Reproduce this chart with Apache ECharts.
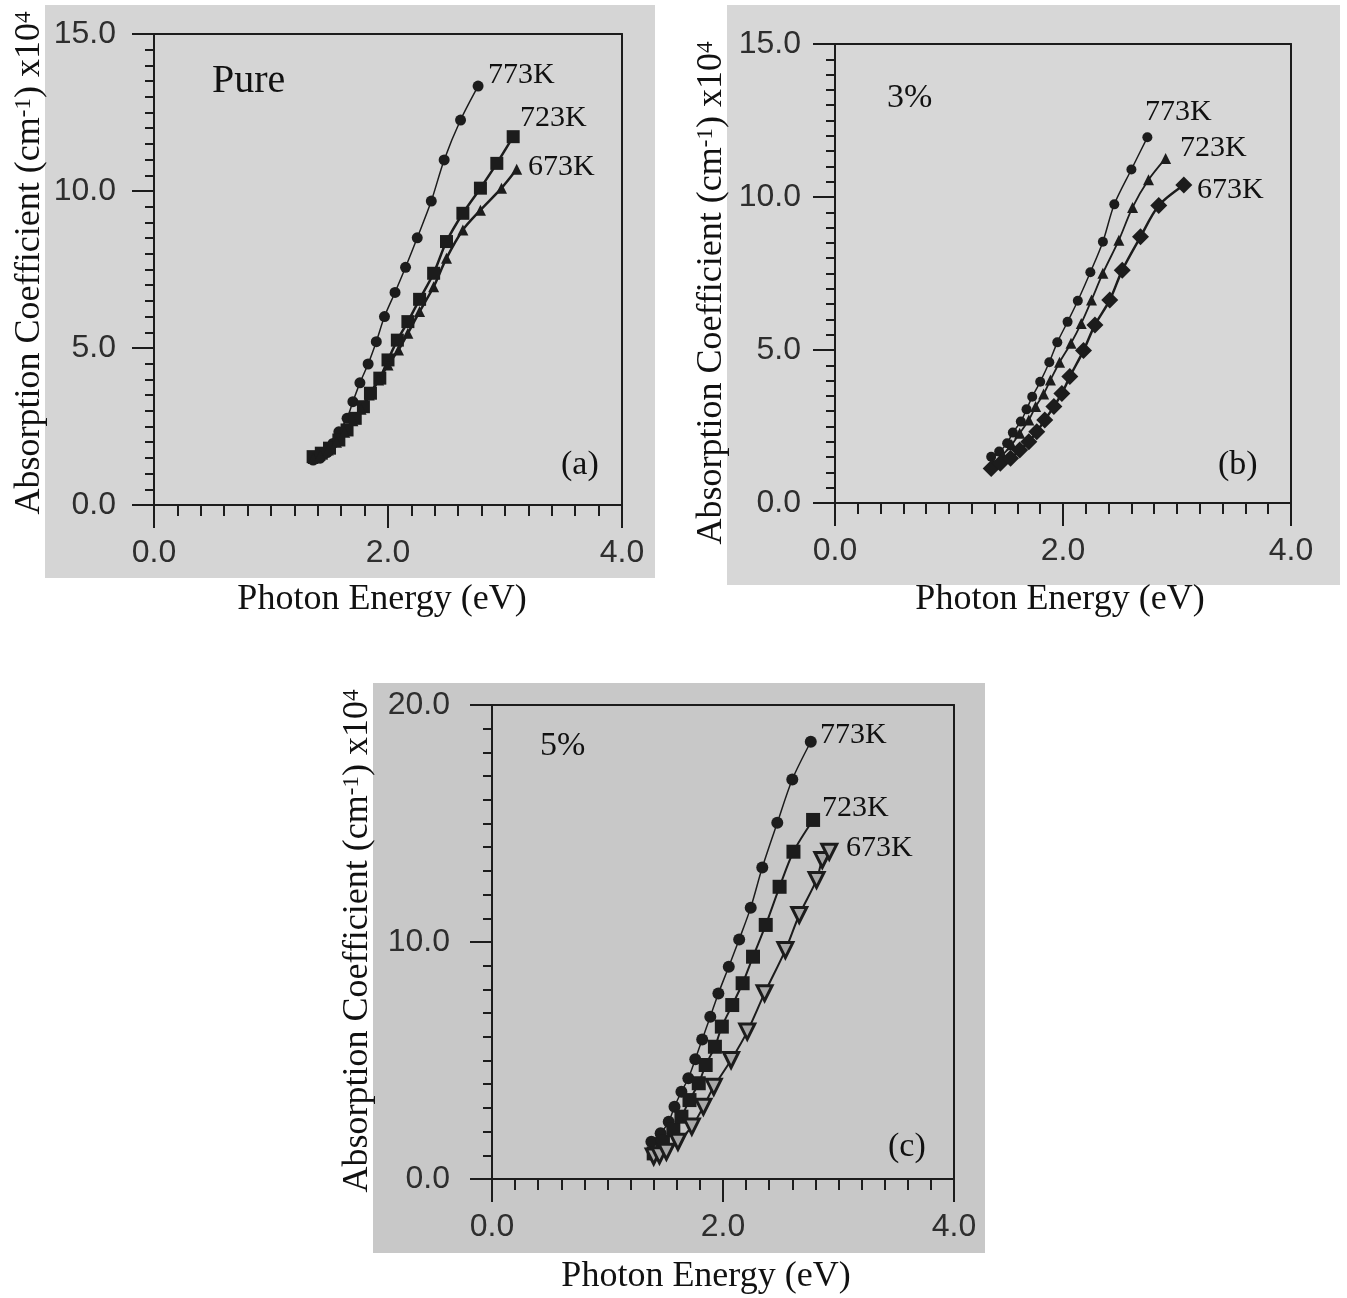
<!DOCTYPE html>
<html>
<head>
<meta charset="utf-8">
<script src="https://cdn.jsdelivr.net/npm/echarts@6/dist/echarts.min.js"></script>
<style>
html,body{margin:0;padding:0;background:#fff;}
#chart{width:1347px;height:1298px;}
</style>
</head>
<body>
<div id="chart"></div>
<script>
// ---------- data (Photon energy eV, absorption coefficient x10^4 cm^-1) ----------
const xTicks = [0, 2, 4];
const panelNames = ['Pure', '3%', '5%'];
const panelLetters = ['(a)', '(b)', '(c)'];
const tempNames = ['773K', '723K', '673K'];

const pure773 = [[1.36,1.43],[1.42,1.49],[1.48,1.67],[1.53,1.96],[1.58,2.33],[1.65,2.76],[1.70,3.29],[1.76,3.89],[1.83,4.49],[1.90,5.20],[1.97,6.00],[2.06,6.77],[2.15,7.57],[2.25,8.51],[2.37,9.68],[2.48,10.99],[2.62,12.26],[2.77,13.34]];
const pure723 = [[1.36,1.54],[1.43,1.65],[1.50,1.81],[1.58,2.07],[1.65,2.39],[1.72,2.76],[1.79,3.13],[1.85,3.56],[1.93,4.04],[2.00,4.62],[2.08,5.25],[2.17,5.84],[2.27,6.55],[2.39,7.38],[2.50,8.39],[2.64,9.29],[2.79,10.09],[2.93,10.88],[3.07,11.73]];
const pure673 = [[1.36,1.48],[1.42,1.58],[1.49,1.75],[1.56,2.00],[1.63,2.32],[1.70,2.68],[1.77,3.05],[1.84,3.50],[1.92,3.98],[2.00,4.46],[2.09,4.94],[2.17,5.47],[2.27,6.16],[2.39,6.95],[2.50,7.86],[2.64,8.76],[2.79,9.39],[2.97,10.09],[3.10,10.69]];

const d3_773 = [[1.37,1.51],[1.44,1.68],[1.51,1.95],[1.56,2.30],[1.63,2.66],[1.68,3.06],[1.73,3.47],[1.80,3.96],[1.88,4.60],[1.95,5.25],[2.04,5.92],[2.13,6.61],[2.24,7.54],[2.35,8.54],[2.45,9.76],[2.60,10.90],[2.74,11.95]];
const d3_723 = [[1.39,1.30],[1.47,1.57],[1.55,1.90],[1.62,2.28],[1.70,2.71],[1.76,3.15],[1.83,3.56],[1.89,4.02],[1.97,4.60],[2.07,5.22],[2.16,5.87],[2.25,6.63],[2.35,7.51],[2.49,8.59],[2.61,9.66],[2.75,10.56],[2.90,11.26]];
const d3_673 = [[1.37,1.13],[1.45,1.30],[1.54,1.46],[1.62,1.73],[1.70,2.00],[1.77,2.33],[1.84,2.71],[1.92,3.15],[1.99,3.58],[2.06,4.13],[2.18,4.98],[2.28,5.82],[2.41,6.63],[2.52,7.61],[2.68,8.70],[2.84,9.72],[3.06,10.39]];

const d5_773 = [[1.38,1.57],[1.46,1.93],[1.53,2.42],[1.58,3.05],[1.64,3.68],[1.70,4.25],[1.76,5.05],[1.82,5.89],[1.89,6.85],[1.96,7.83],[2.05,8.96],[2.14,10.11],[2.24,11.45],[2.34,13.14],[2.47,15.03],[2.60,16.86],[2.76,18.45]];
const d5_723 = [[1.40,1.08],[1.48,1.57],[1.57,2.07],[1.64,2.63],[1.71,3.33],[1.79,4.04],[1.85,4.81],[1.93,5.58],[1.99,6.43],[2.08,7.34],[2.17,8.26],[2.26,9.38],[2.37,10.72],[2.49,12.33],[2.61,13.81],[2.78,15.15]];
const d5_673 = [[1.40,0.95],[1.45,1.00],[1.51,1.15],[1.61,1.57],[1.73,2.21],[1.83,3.05],[1.92,3.89],[2.07,5.02],[2.21,6.22],[2.36,7.84],[2.54,9.66],[2.66,11.14],[2.81,12.62],[2.86,13.46],[2.92,13.81]];

const yMaxes = [15, 15, 20];
const yIntervals = [5, 5, 10];

// ---------- layout ----------
const INK = '#1c1c1c';
const grids = [
  {left:154, top:34, width:468, height:471},
  {left:835, top:44, width:456, height:459},
  {left:492, top:705, width:462, height:474}
];
const bgRects = [
  {x:45, y:5, w:610, h:573, c:'#d5d5d5'},
  {x:727, y:5, w:613, h:580, c:'#d7d7d7'},
  {x:373, y:683, w:612, h:570, c:'#c8c8c8'}
];
const yLabelMargins = [38, 34, 42];

const xAxes = [], yAxes = [];
grids.forEach((g, i) => {
  xAxes.push({
    gridIndex:i, type:'value', position:'bottom', min:xTicks[0], max:xTicks[xTicks.length-1], interval:2,
    axisLine:{show:true, onZero:false, lineStyle:{color:INK, width:2}},
    axisTick:{show:true, length:23, lineStyle:{color:INK, width:2}},
    minorTick:{show:true, splitNumber:10, length:11, lineStyle:{color:INK, width:2}},
    axisLabel:{fontFamily:'Liberation Sans', fontSize:32, color:'#2e2e2e', margin:32, formatter:v=>v.toFixed(1)},
    splitLine:{show:false}
  });
  xAxes.push({
    gridIndex:i, type:'value', position:'top', min:0, max:4,
    axisLine:{show:true, onZero:false, lineStyle:{color:INK, width:2}},
    axisTick:{show:false}, axisLabel:{show:false}, splitLine:{show:false}
  });
  yAxes.push({
    gridIndex:i, type:'value', position:'left', min:0, max:yMaxes[i], interval:yIntervals[i],
    axisLine:{show:true, onZero:false, lineStyle:{color:INK, width:2}},
    axisTick:{show:true, length:22, lineStyle:{color:INK, width:2}},
    minorTick:{show:true, splitNumber:10, length:9, lineStyle:{color:INK, width:2}},
    axisLabel:{fontFamily:'Liberation Sans', fontSize:32, color:'#2e2e2e', margin:yLabelMargins[i], formatter:v=>v.toFixed(1)},
    splitLine:{show:false}
  });
  yAxes.push({
    gridIndex:i, type:'value', position:'right', min:0, max:yMaxes[i],
    axisLine:{show:true, onZero:false, lineStyle:{color:INK, width:2}},
    axisTick:{show:false}, axisLabel:{show:false}, splitLine:{show:false}
  });
});

const downTri = 'path://M0,0 L10,0 L5,9 Z';
const seriesDefs = [
  {p:0, data:pure773, symbol:'circle', size:11, lw:1.5},
  {p:0, data:pure723, symbol:'rect', size:13, lw:2.5},
  {p:0, data:pure673, symbol:'triangle', size:11, lw:2.5},
  {p:1, data:d3_773, symbol:'circle', size:10, lw:1.5},
  {p:1, data:d3_723, symbol:'triangle', size:11, lw:1.8},
  {p:1, data:d3_673, symbol:'diamond', size:17, lw:2.5},
  {p:2, data:d5_773, symbol:'circle', size:12, lw:1.5},
  {p:2, data:d5_723, symbol:'rect', size:14, lw:2},
  {p:2, data:d5_673, symbol:downTri, size:15, lw:2, hollow:true}
];
const series = seriesDefs.map(s => ({
  type:'line', xAxisIndex:s.p*2, yAxisIndex:s.p*2, data:s.data,
  symbol:s.symbol, symbolSize:s.size, smooth:0.3, showSymbol:true,
  lineStyle:{color:INK, width:s.lw},
  itemStyle: s.hollow ? {color:'#a9a9a9', borderColor:INK, borderWidth:3} : {color:INK, borderWidth:0},
  emphasis:{disabled:true}, animation:false, z:3
}));

// ---------- texts ----------
const serif = 'Liberation Serif';
const graphics = [];
bgRects.forEach(r => graphics.push({type:'rect', z:-100, silent:true, shape:{x:r.x, y:r.y, width:r.w, height:r.h}, style:{fill:r.c}}));
function txt(s, x, y, size, align, extra) {
  graphics.push(Object.assign({type:'text', x:x, y:y, z:10, silent:true,
    style:{text:s, fontFamily:serif, fontSize:size, fill:'#111', align:align||'left', verticalAlign:'middle'}}, extra||{}));
}
const yTitle = 'Absorption Coefficient (cm{s|-1}) x10{s|4}';
const titlePos = [
  {yt:[30, 263], xt:[382, 600]},
  {yt:[712, 293], xt:[1060, 600]},
  {yt:[358, 941], xt:[706, 1277]}
];
titlePos.forEach(t => {
  graphics.push({type:'text', x:t.yt[0], y:t.yt[1], rotation:Math.PI/2, z:10, silent:true,
    style:{text:yTitle, fontFamily:serif, fontSize:36, fill:'#111', align:'center', verticalAlign:'middle',
      rich:{s:{fontFamily:serif, fontSize:23, fill:'#111', verticalAlign:'top', lineHeight:23, padding:[0,0,20,0]}}}});
  txt('Photon Energy (eV)', t.xt[0], t.xt[1], 36, 'center');
});
const nameLabelPos = [[212, 81, 40], [887, 98, 34], [540, 746, 34]];
nameLabelPos.forEach((p, i) => txt(panelNames[i], p[0], p[1], p[2]));
const letterPos = [[561, 465], [1218, 465], [888, 1147]];
letterPos.forEach((p, i) => txt(panelLetters[i], p[0], p[1], 34));
const tempPos = [
  [[488, 75], [520, 118], [528, 167]],
  [[1145, 112], [1180, 148], [1197, 190]],
  [[820, 735], [822, 808], [846, 848]]
];
tempPos.forEach(arr => arr.forEach((p, j) => txt(tempNames[j], p[0], p[1], 30)));

const chart = echarts.init(document.getElementById('chart'), null, {renderer:'canvas'});
chart.setOption({
  backgroundColor:'#ffffff',
  animation:false,
  grid: grids.map(g => Object.assign({containLabel:false}, g)),
  xAxis: xAxes,
  yAxis: yAxes,
  series: series,
  graphic: {elements: graphics}
});
</script>
</body>
</html>
